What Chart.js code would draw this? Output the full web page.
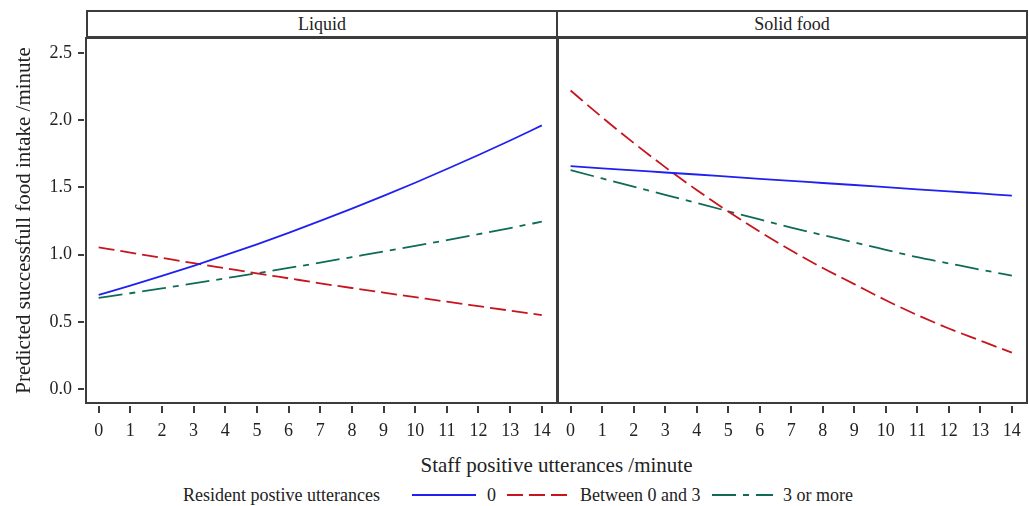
<!DOCTYPE html>
<html>
<head>
<meta charset="utf-8">
<script src="https://cdn.jsdelivr.net/npm/chart.js@4.4.1/dist/chart.umd.min.js"></script>
<style>
  body { margin: 0; background: #fff; font-family: "Liberation Serif", "DejaVu Serif", serif; color: #222; }
  #wrap { position: relative; width: 1029px; height: 506px; overflow: hidden; }
  .strip { position: absolute; top: 10px; height: 28px; box-sizing: border-box; border: 2px solid #3c3c3c;
           text-align: center; font-size: 18px; line-height: 24px; }
  .box { position: absolute; top: 36px; height: 414px; }
  #xtitle { position: absolute; left: 86px; width: 941px; top: 452px; text-align: center; font-size: 21px; line-height: 26px; }
  #legend { position: absolute; top: 484px; left: 0; width: 1029px; height: 22px; font-size: 18px; }
  #legend span { position: absolute; top: 0; line-height: 22px; white-space: nowrap; }
  #legend svg { position: absolute; top: 0; }
</style>
</head>
<body>
<div id="wrap">
  <div class="strip" style="left:86px;width:472px;">Liquid</div>
  <div class="strip" style="left:556px;width:472px;">Solid food</div>
  <div class="box" style="left:0;width:558px;"><canvas id="liquidChart"></canvas></div>
  <div class="box" style="left:556px;width:473px;"><canvas id="solidChart"></canvas></div>
  <div id="xtitle">Staff positive utterances /minute</div>
  <div id="legend">
    <span style="left:183px;">Resident postive utterances</span>
    <svg style="left:412px;" width="64" height="22"><line x1="0" y1="11" x2="64" y2="11" stroke="#2020f0" stroke-width="2"/></svg>
    <span style="left:487px;">0</span>
    <svg style="left:507px;" width="62" height="22"><line x1="0" y1="11" x2="62" y2="11" stroke="#c8141e" stroke-width="2" stroke-dasharray="16 6"/></svg>
    <span style="left:580px;">Between 0 and 3</span>
    <svg style="left:712px;" width="61" height="22"><line x1="0" y1="11" x2="61" y2="11" stroke="#0f6b57" stroke-width="2" stroke-dasharray="24 7 6 7"/></svg>
    <span style="left:783px;">3 or more</span>
  </div>
</div>
<script>
// values
const staffUtterances = [0, 1, 2, 3, 4, 5, 6, 7, 8, 9, 10, 11, 12, 13, 14];
const yTickValues = [0, 0.5, 1, 1.5, 2, 2.5];

const liquidNone = [0.700, 0.769, 0.841, 0.916, 0.995, 1.076, 1.161, 1.250, 1.341, 1.436, 1.534, 1.636, 1.740, 1.848, 1.960];
const liquidMid  = [1.054, 1.014, 0.975, 0.936, 0.898, 0.860, 0.823, 0.786, 0.751, 0.717, 0.683, 0.649, 0.616, 0.583, 0.550];
const liquidHigh = [0.677, 0.712, 0.748, 0.785, 0.823, 0.861, 0.900, 0.940, 0.981, 1.022, 1.064, 1.107, 1.151, 1.197, 1.244];

const solidNone = [1.657, 1.641, 1.626, 1.610, 1.595, 1.579, 1.563, 1.548, 1.532, 1.517, 1.501, 1.485, 1.470, 1.454, 1.438];
const solidMid  = [2.22, 2.02, 1.83, 1.65, 1.48, 1.32, 1.17, 1.03, 0.90, 0.78, 0.66, 0.55, 0.45, 0.36, 0.27];
const solidHigh = [1.627, 1.566, 1.505, 1.444, 1.383, 1.322, 1.261, 1.200, 1.145, 1.090, 1.035, 0.980, 0.934, 0.888, 0.843];

const FONT = "'Liberation Serif', 'DejaVu Serif', serif";
const INK = "#222";
const FRAME = "#3c3c3c";

function toPoints(ys) {
  return staffUtterances.map((x, i) => ({ x: x, y: ys[i] }));
}

// frame round the plot area
const framePlugin = {
  id: "frame",
  afterDatasetsDraw(chart) {
    const a = chart.chartArea;
    const ctx = chart.ctx;
    ctx.save();
    ctx.strokeStyle = FRAME;
    ctx.lineWidth = 2;
    ctx.strokeRect(a.left, a.top, a.right - a.left, a.bottom - a.top);
    ctx.restore();
  }
};

function makeChart(id, none, mid, high, showY) {
  const ctx = document.getElementById(id).getContext("2d");
  return new Chart(ctx, {
    type: "line",
    data: {
      datasets: [
        { label: "0", data: toPoints(none), borderColor: "#2020f0", borderWidth: 1.8 },
        { label: "Between 0 and 3", data: toPoints(mid), borderColor: "#c8141e", borderWidth: 1.8, borderDash: [16, 6] },
        { label: "3 or more", data: toPoints(high), borderColor: "#0f6b57", borderWidth: 1.8, borderDash: [24, 7, 6, 7] }
      ]
    },
    options: {
      responsive: true,
      maintainAspectRatio: false,
      animation: false,
      layout: { padding: { top: 2, left: showY ? 0 : 2, right: showY ? 1 : 2, bottom: 0 } },
      elements: { point: { radius: 0 }, line: { cubicInterpolationMode: "monotone" } },
      plugins: { legend: { display: false }, tooltip: { enabled: false } },
      scales: {
        x: {
          type: "linear",
          min: -0.4,
          max: 14.48,
          afterBuildTicks: (s) => { s.ticks = staffUtterances.map(v => ({ value: v })); },
          afterFit: (s) => { s.height = 47; s.paddingLeft = 0; s.paddingRight = 0; },
          border: { display: false },
          grid: { drawOnChartArea: false, tickLength: 10, color: FRAME, lineWidth: 2, tickBorderDash: [0, 3, 7, 50] },
          ticks: { color: INK, font: { family: FONT, size: 18 }, padding: 7, maxRotation: 0, autoSkip: false }
        },
        y: {
          display: showY,
          min: -0.104,
          max: 2.61,
          afterBuildTicks: (s) => { s.ticks = yTickValues.map(v => ({ value: v })); },
          afterFit: (s) => { s.width = showY ? 86 : 0; s.paddingTop = 0; s.paddingBottom = 0; },
          border: { display: false },
          grid: { drawOnChartArea: false, tickLength: 10, color: FRAME, lineWidth: 2, tickBorderDash: [0, 2, 6, 50] },
          ticks: { color: INK, font: { family: FONT, size: 18 }, padding: 4, callback: (v) => Number(v).toFixed(1) },
          title: {
            display: true,
            text: "Predicted successfull food intake /minute",
            color: INK,
            font: { family: FONT, size: 21 },
            padding: { top: 12, bottom: 0 }
          }
        }
      }
    },
    plugins: [framePlugin]
  });
}

makeChart("liquidChart", liquidNone, liquidMid, liquidHigh, true);
makeChart("solidChart", solidNone, solidMid, solidHigh, false);
</script>
</body>
</html>
